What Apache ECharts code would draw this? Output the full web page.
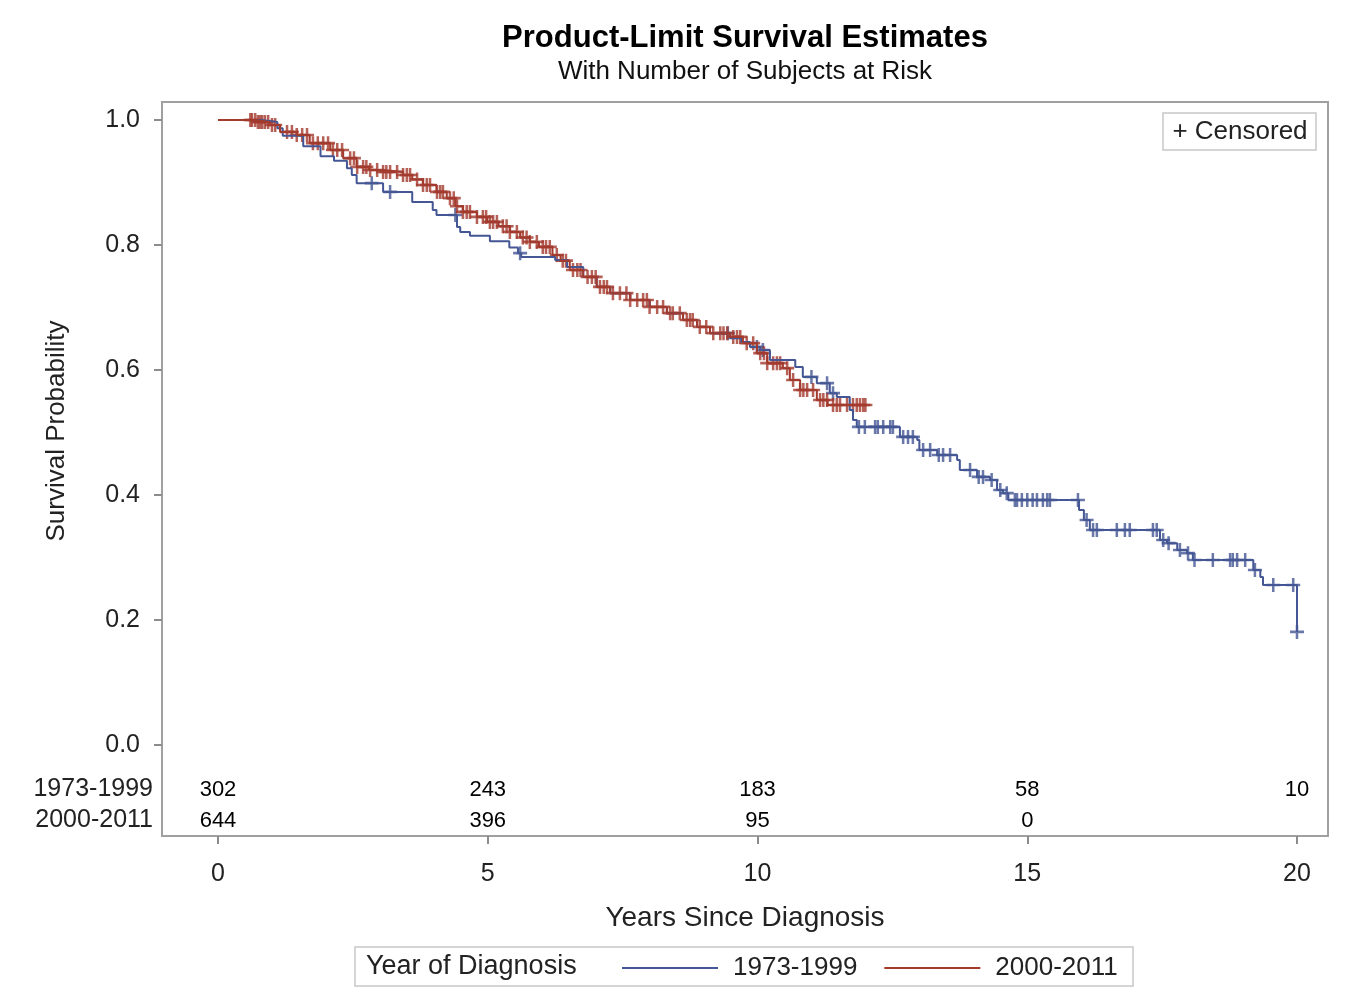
<!DOCTYPE html>
<html><head><meta charset="utf-8">
<script src="https://cdn.jsdelivr.net/npm/echarts@6/dist/echarts.min.js"></script>
<style>html,body{margin:0;padding:0;background:#fff}#c{width:1351px;height:1000px}</style>
</head><body><div id="c"></div>
<script>
// ---------- data ----------
const groups = ['1973-1999', '2000-2011'];
const xTicks = [0, 5, 10, 15, 20];
const atRisk1973 = [302, 243, 183, 58, 10];
const atRisk2000 = [644, 396, 95, 0, null];

const eventTimes1973 = [0, 0.8, 1.1, 1.2, 1.58, 1.9, 2.15, 2.39, 2.48, 2.57, 3.06, 3.6, 3.98, 4.05, 4.43, 4.49, 4.67, 5.04, 5.4, 5.56, 5.62, 6.25, 6.47, 6.77, 7.02, 7.27, 7.64, 8.0, 8.32, 8.62, 8.88, 9.12, 9.49, 9.7, 9.86, 10.05, 10.23, 10.7, 10.84, 11.1, 11.34, 11.47, 11.71, 11.77, 11.84, 12.64, 12.96, 13.0, 13.33, 13.7, 13.75, 14.07, 14.31, 14.44, 14.55, 14.65, 15.96, 16.05, 16.16, 17.46, 17.59, 17.78, 17.96, 18.07, 19.19, 19.32, 19.37, 20.0];
const survival1973 = [1.0, 0.997, 0.987, 0.975, 0.958, 0.942, 0.935, 0.923, 0.912, 0.899, 0.885, 0.869, 0.856, 0.848, 0.829, 0.821, 0.815, 0.806, 0.796, 0.787, 0.781, 0.776, 0.765, 0.749, 0.733, 0.723, 0.712, 0.701, 0.691, 0.68, 0.669, 0.659, 0.651, 0.645, 0.637, 0.632, 0.616, 0.605, 0.589, 0.579, 0.563, 0.557, 0.536, 0.52, 0.509, 0.493, 0.488, 0.472, 0.464, 0.456, 0.44, 0.429, 0.424, 0.408, 0.403, 0.392, 0.376, 0.36, 0.344, 0.328, 0.323, 0.312, 0.307, 0.296, 0.28, 0.269, 0.256, 0.181];
const censorTimes1973 = [2.85, 3.19, 4.4, 5.6, 9.45, 9.99, 10.1, 11.0, 11.29, 11.4, 11.88, 11.99, 12.18, 12.23, 12.33, 12.46, 12.51, 12.7, 12.79, 12.88, 13.07, 13.2, 13.36, 13.44, 13.57, 13.94, 14.1, 14.18, 14.34, 14.5, 14.62, 14.77, 14.81, 14.9, 15.0, 15.1, 15.18, 15.29, 15.37, 15.42, 15.94, 16.1, 16.22, 16.29, 16.66, 16.81, 16.9, 17.33, 17.4, 17.52, 17.62, 17.83, 17.98, 18.1, 18.44, 18.76, 18.81, 18.89, 19.04, 19.22, 19.56, 19.93, 20.0];

const eventTimes2000 = [0, 0.7, 0.96, 1.15, 1.46, 1.7, 2.08, 2.32, 2.57, 2.8, 3.06, 3.43, 3.6, 3.8, 4.05, 4.24, 4.4, 4.54, 4.8, 4.99, 5.2, 5.41, 5.6, 5.78, 5.95, 6.2, 6.35, 6.52, 6.77, 7.02, 7.27, 7.64, 8.0, 8.32, 8.62, 8.88, 9.12, 9.49, 9.73, 9.99, 10.18, 10.47, 10.6, 10.79, 11.1, 11.3];
const survival2000 = [1.0, 0.997, 0.992, 0.981, 0.976, 0.963, 0.952, 0.939, 0.925, 0.92, 0.917, 0.912, 0.905, 0.896, 0.885, 0.875, 0.862, 0.853, 0.845, 0.837, 0.83, 0.821, 0.812, 0.805, 0.797, 0.784, 0.775, 0.76, 0.749, 0.733, 0.723, 0.712, 0.701, 0.691, 0.68, 0.669, 0.659, 0.653, 0.643, 0.627, 0.611, 0.603, 0.584, 0.568, 0.552, 0.544];
const censorTimes2000 = [0.6, 0.63, 0.69, 0.74, 0.78, 0.82, 0.87, 0.93, 1.0, 1.06, 1.28, 1.37, 1.46, 1.56, 1.65, 1.76, 1.85, 1.95, 2.04, 2.13, 2.21, 2.3, 2.45, 2.52, 2.58, 2.69, 2.75, 2.82, 2.95, 3.06, 3.12, 3.19, 3.32, 3.43, 3.5, 3.56, 3.69, 3.8, 3.87, 3.93, 4.06, 4.12, 4.17, 4.3, 4.37, 4.43, 4.54, 4.61, 4.67, 4.8, 4.91, 4.97, 5.04, 5.1, 5.17, 5.28, 5.35, 5.41, 5.54, 5.65, 5.72, 5.78, 5.91, 6.02, 6.08, 6.15, 6.28, 6.39, 6.45, 6.58, 6.66, 6.72, 6.85, 6.93, 7.0, 7.08, 7.15, 7.21, 7.32, 7.45, 7.57, 7.64, 7.77, 7.88, 7.95, 8.0, 8.14, 8.25, 8.38, 8.43, 8.56, 8.69, 8.75, 8.8, 8.93, 9.05, 9.18, 9.31, 9.37, 9.44, 9.55, 9.62, 9.68, 9.8, 9.92, 10.05, 10.12, 10.18, 10.29, 10.36, 10.42, 10.55, 10.66, 10.79, 10.85, 10.92, 11.03, 11.16, 11.22, 11.29, 11.4, 11.47, 11.53, 11.66, 11.77, 11.84, 11.9, 11.96, 12.0];

// ---------- helpers ----------
function stepValue(times, surv, t) {
  let v = surv[0];
  for (let i = 0; i < times.length; i++) { if (times[i] <= t) v = surv[i]; else break; }
  return v;
}
function curve(times, surv, censors) {
  const d = times.map((t, i) => [t, surv[i]]);
  const last = Math.max(times[times.length - 1], censors[censors.length - 1]);
  if (last > times[times.length - 1]) d.push([last, surv[surv.length - 1]]);
  return d;
}
function marks(times, surv, censors) {
  return censors.map(t => [t, stepValue(times, surv, t)]);
}
function riskData(group, counts) {
  const out = [];
  counts.forEach((c, i) => { if (c !== null) out.push([xTicks[i], group, c]); });
  return out;
}

const BLUE = '#445694', RED = '#A23A2E';
const FONT = '"Liberation Sans", Arial, sans-serif';
const PLUS = 'path://M4.1,0H5.9V10H4.1ZM0,4.1H10V5.9H0Z';
// plot frame: x 162..1328, y 102..836 ; data 0..20 maps to 218..1297
const PX_PER_YEAR = 1079 / 20;
const X_MIN = -(218 - 162) / PX_PER_YEAR;
const X_MAX = 20 + (1328 - 1297) / PX_PER_YEAR;

const riskLabel = { show: true, position: 'inside', fontSize: 22, color: '#000', fontFamily: FONT,
  textBorderWidth: 0, textBorderColor: 'transparent', opacity: 1,
  formatter: p => String(p.value[2]) };

const chart = echarts.init(document.getElementById('c'));
chart.setOption({
  animation: false,
  textStyle: { fontFamily: FONT },
  grid: [
    { left: 162, width: 1166, top: 120, height: 625 },
    { left: 218, width: 1079, top: 774, height: 62 }
  ],
  xAxis: [
    { gridIndex: 0, type: 'value', min: X_MIN, max: X_MAX, show: false },
    { gridIndex: 1, type: 'value', min: 0, max: 20, interval: 5,
      axisLine: { show: false, onZero: false },
      axisTick: { show: true, length: 8, lineStyle: { color: '#8c8c8c', width: 2 } },
      axisLabel: { fontSize: 25, color: '#222', margin: 26, fontFamily: FONT },
      splitLine: { show: false } }
  ],
  yAxis: [
    { gridIndex: 0, type: 'value', min: 0, max: 1, interval: 0.2,
      axisLine: { show: false, onZero: false },
      axisTick: { show: true, length: 8, lineStyle: { color: '#8c8c8c', width: 2 } },
      axisLabel: { fontSize: 25, color: '#222', margin: 22, fontFamily: FONT,
                   formatter: v => v.toFixed(1) },
      splitLine: { show: false } },
    { gridIndex: 1, type: 'category', data: [groups[1], groups[0]], offset: 56,
      axisLine: { show: false, onZero: false }, axisTick: { show: false },
      axisLabel: { fontSize: 25, color: '#222', margin: 9, interval: 0, fontFamily: FONT } }
  ],
  legend: {
    data: groups, left: 617, top: 950, itemWidth: 96, itemHeight: 2, itemGap: 27,
    icon: 'rect',
    textStyle: { fontSize: 26, color: '#222', fontFamily: FONT, padding: [0, 0, 0, 10] }
  },
  series: [
    { name: groups[0], type: 'line', step: 'end', showSymbol: false, xAxisIndex: 0, yAxisIndex: 0,
      lineStyle: { color: BLUE, width: 2 }, itemStyle: { color: BLUE },
      data: curve(eventTimes1973, survival1973, censorTimes1973) },
    { name: 'Censored 1973-1999', type: 'scatter', symbol: PLUS, symbolSize: 14,
      xAxisIndex: 0, yAxisIndex: 0, itemStyle: { color: BLUE },
      data: marks(eventTimes1973, survival1973, censorTimes1973) },
    { name: groups[1], type: 'line', step: 'end', showSymbol: false, xAxisIndex: 0, yAxisIndex: 0,
      lineStyle: { color: RED, width: 2 }, itemStyle: { color: RED },
      data: curve(eventTimes2000, survival2000, censorTimes2000) },
    { name: 'Censored 2000-2011', type: 'scatter', symbol: PLUS, symbolSize: 14,
      xAxisIndex: 0, yAxisIndex: 0, itemStyle: { color: RED },
      data: marks(eventTimes2000, survival2000, censorTimes2000) },
    { name: 'At risk 1973-1999', type: 'scatter', xAxisIndex: 1, yAxisIndex: 1,
      symbolSize: 1, itemStyle: { color: '#fff' }, label: riskLabel,
      data: riskData(groups[0], atRisk1973) },
    { name: 'At risk 2000-2011', type: 'scatter', xAxisIndex: 1, yAxisIndex: 1,
      symbolSize: 1, itemStyle: { color: '#fff' }, label: riskLabel,
      data: riskData(groups[1], atRisk2000) }
  ],
  graphic: [
    { type: 'rect', shape: { x: 162, y: 102, width: 1166, height: 734 }, z: -1,
      style: { fill: 'none', stroke: '#a0a0a0', lineWidth: 2 } },
    { type: 'text', x: 745, y: 38, style: { text: 'Product-Limit Survival Estimates', font: 'bold 31px ' + FONT,
      fill: '#000', align: 'center', verticalAlign: 'middle' } },
    { type: 'text', x: 745, y: 72, style: { text: 'With Number of Subjects at Risk', font: '26px ' + FONT,
      fill: '#111', align: 'center', verticalAlign: 'middle' } },
    { type: 'text', x: 57, y: 431, rotation: Math.PI / 2, style: { text: 'Survival Probability', font: '26px ' + FONT,
      fill: '#222', align: 'center', verticalAlign: 'middle' } },
    { type: 'text', x: 745, y: 918, style: { text: 'Years Since Diagnosis', font: '28px ' + FONT,
      fill: '#222', align: 'center', verticalAlign: 'middle' } },
    { type: 'rect', shape: { x: 1163, y: 113, width: 153, height: 37 },
      style: { fill: '#fff', stroke: '#c8c8c8', lineWidth: 1.5 } },
    { type: 'text', x: 1240, y: 132, style: { text: '+ Censored', font: '26px ' + FONT,
      fill: '#222', align: 'center', verticalAlign: 'middle' } },
    { type: 'rect', shape: { x: 355, y: 947, width: 778, height: 39 }, z: -1,
      style: { fill: '#fff', stroke: '#c8c8c8', lineWidth: 1.5 } },
    { type: 'text', x: 366, y: 967, style: { text: 'Year of Diagnosis', font: '27px ' + FONT,
      fill: '#222', align: 'left', verticalAlign: 'middle' } }
  ]
});
</script>
</body></html>
